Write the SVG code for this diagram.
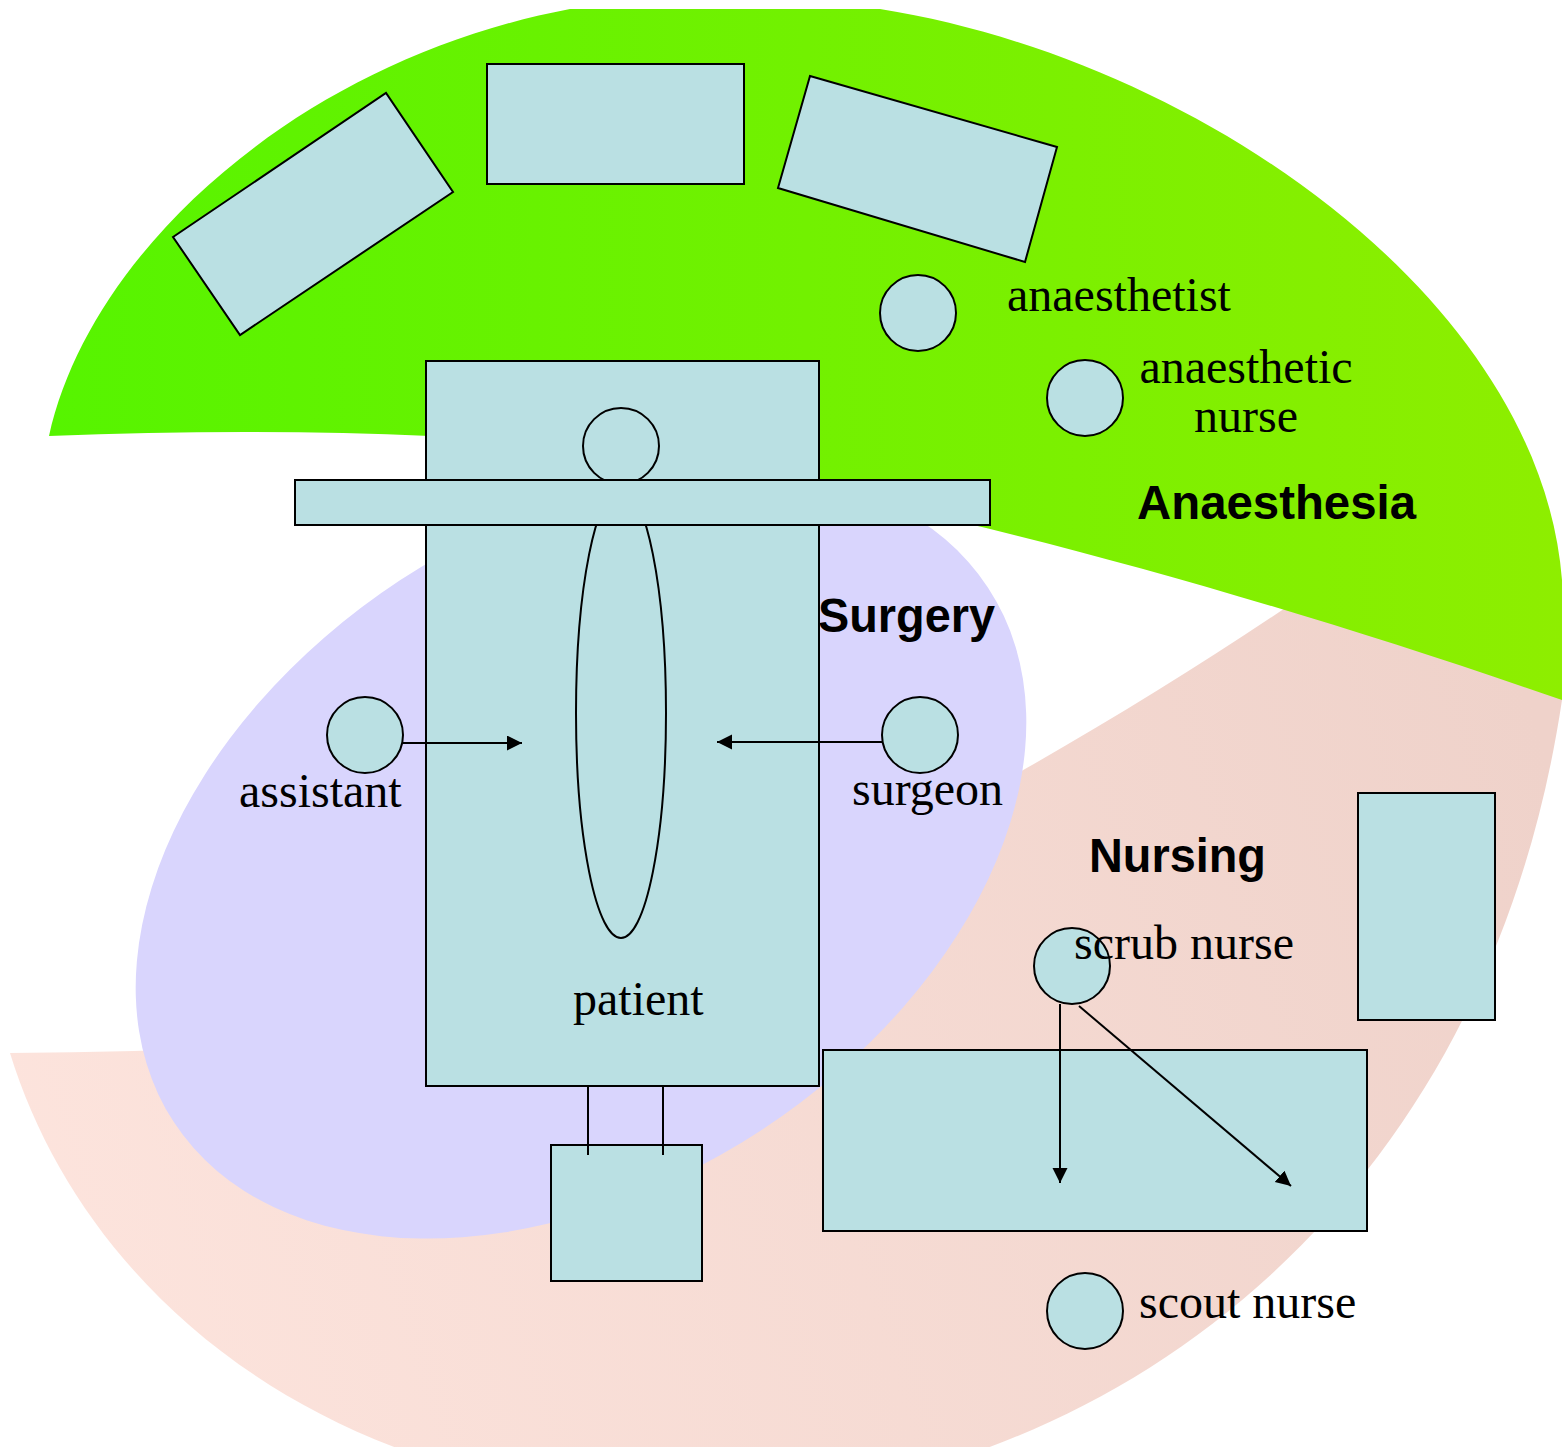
<svg xmlns="http://www.w3.org/2000/svg" width="1562" height="1447" viewBox="0 0 1562 1447">
<defs>
<linearGradient id="gGreen" gradientUnits="userSpaceOnUse" x1="50" y1="0" x2="1562" y2="0">
<stop offset="0" stop-color="#56f400"/>
<stop offset="1" stop-color="#8eee00"/>
</linearGradient>
<linearGradient id="gPink" gradientUnits="userSpaceOnUse" x1="10" y1="1300" x2="1562" y2="800">
<stop offset="0" stop-color="#fde4dd"/>
<stop offset="1" stop-color="#efd2ca"/>
</linearGradient>
<marker id="arr" markerUnits="userSpaceOnUse" markerWidth="16" markerHeight="16" refX="15" refY="7.5" orient="auto">
<path d="M0,0 L15,7.5 L0,15 Z" fill="#000"/>
</marker>
</defs>
<style>
.obj{fill:#bae0e3;stroke:#000;stroke-width:2}
.lbl{font-family:"Liberation Serif","Times New Roman",serif;font-size:48px;fill:#000}
.zone{font-family:"Liberation Sans",Arial,sans-serif;font-size:48px;font-weight:bold;fill:#000}
.con{stroke:#000;stroke-width:2;fill:none}
</style>
<g id="zones">
<path id="nursing-zone" d="M10,1053 C80,1280 300,1480 650,1500 C1050,1520 1480,1250 1562,700 L1562,600 L1480,470 C1200,680 700,1000 285,1045 Q150,1052 10,1053 Z" fill="url(#gPink)"/>
<ellipse id="surgery-zone" cx="581" cy="855" rx="487" ry="329" transform="rotate(-33.3 581 855)" fill="#d9d5fd"/>
<path id="anaesthesia-zone" d="M49,436 C90,250 300,60 570,9 L880,9 C1200,60 1540,300 1562,580 L1562,700 C1100,540 700,450 430,436 Q250,428 49,436 Z" fill="url(#gGreen)"/>
</g>
<g id="equipment-left"><polygon class="obj" points="173,237 386,93 453,192 240,335"/></g>
<g id="equipment-top"><rect class="obj" x="487" y="64" width="257" height="120"/></g>
<g id="equipment-right"><polygon class="obj" points="810,76 1057,147 1025,262 778,188"/></g>
<g id="anaesthetist"><circle class="obj" cx="918" cy="313" r="38"/><text class="lbl" x="1007" y="311">anaesthetist</text></g>
<g id="anaesthetic-nurse"><circle class="obj" cx="1085" cy="398" r="38"/><text class="lbl" x="1246" y="383" text-anchor="middle">anaesthetic</text><text class="lbl" x="1246" y="432" text-anchor="middle">nurse</text></g>
<g id="patient">
<rect class="obj" x="426" y="361" width="393" height="725"/>
<circle class="obj" cx="621" cy="446" r="38"/>
<ellipse class="obj" cx="621" cy="713" rx="45" ry="225"/>
<rect class="obj" x="295" y="480" width="695" height="45"/>
<text class="lbl" x="573" y="1015">patient</text>
</g>
<g id="labels">
<text class="zone" x="1137" y="519" textLength="279" lengthAdjust="spacingAndGlyphs">Anaesthesia</text>
<text class="zone" x="818" y="632" textLength="177" lengthAdjust="spacingAndGlyphs">Surgery</text>
<text class="zone" x="1089" y="872" textLength="177" lengthAdjust="spacingAndGlyphs">Nursing</text>
</g>
<g id="assistant"><circle class="obj" cx="365" cy="735" r="38"/><text class="lbl" x="239" y="807">assistant</text></g>
<g id="surgeon"><circle class="obj" cx="920" cy="735" r="38"/><text class="lbl" x="852" y="805">surgeon</text></g>
<g id="side-cabinet"><rect class="obj" x="1358" y="793" width="137" height="227"/></g>
<g id="instrument-table"><rect class="obj" x="823" y="1050" width="544" height="181"/></g>
<g id="foot-unit"><rect class="obj" x="551" y="1145" width="151" height="136"/></g>
<g id="scrub-nurse"><circle class="obj" cx="1072" cy="966" r="38"/><text class="lbl" x="1074" y="959">scrub nurse</text></g>
<g id="scout-nurse"><circle class="obj" cx="1085" cy="1311" r="38"/><text class="lbl" x="1139" y="1318">scout nurse</text></g>
<g id="connectors">
<line class="con" x1="403" y1="743" x2="522" y2="743" marker-end="url(#arr)"/>
<line class="con" x1="882" y1="742" x2="717" y2="742" marker-end="url(#arr)"/>
<line class="con" x1="1060" y1="1004" x2="1060" y2="1183" marker-end="url(#arr)"/>
<line class="con" x1="1079" y1="1006" x2="1291" y2="1186" marker-end="url(#arr)"/>
<line class="con" x1="588" y1="1086" x2="588" y2="1155" stroke-width="1.5"/>
<line class="con" x1="663" y1="1086" x2="663" y2="1155" stroke-width="1.5"/>
</g>
</svg>
